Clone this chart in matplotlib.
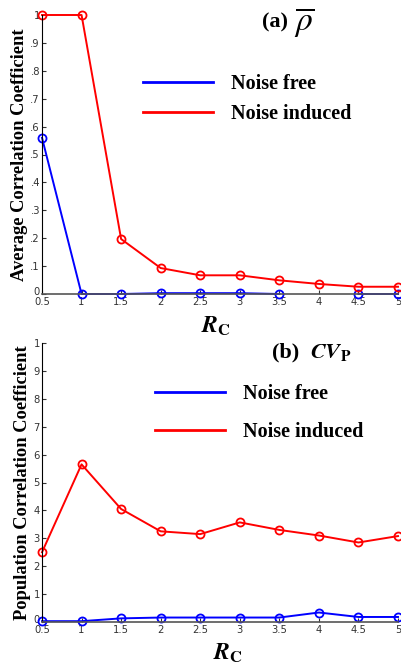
import numpy as np
import matplotlib
matplotlib.use("Agg")
import matplotlib.pyplot as plt
import matplotlib.transforms as mtransforms
from matplotlib.lines import Line2D

plt.rcParams['mathtext.fontset'] = 'stix'

rc = [0.5, 1, 1.5, 2, 2.5, 3, 3.5, 4, 4.5, 5]
xtick_labels = ['0.5', '1', '1.5', '2', '2.5', '3', '3.5', '4', '4.5', '5']

# (a) average correlation coefficient
rho_free = [0.56, 0.0, 0.0, 0.003, 0.003, 0.003, 0.0, np.nan, 0.0, 0.0]
rho_noise = [1.0, 1.0, 0.197, 0.093, 0.067, 0.067, 0.049, 0.036, 0.026, 0.026]

# (b) population correlation coefficient
cv_free = [0.003, 0.003, 0.013, 0.016, 0.016, 0.016, 0.016, 0.034, 0.018, 0.018]
cv_noise = [0.25, 0.565, 0.405, 0.325, 0.315, 0.357, 0.33, 0.31, 0.285, 0.308]

yticks = [0, 0.1, 0.2, 0.3, 0.4, 0.5, 0.6, 0.7, 0.8, 0.9, 1.0]
ylab_a = ['0', '.1', '.2', '.3', '.4', '.5', '.6', '.7', '.8', '.9', '1']
ylab_b = ['0', '1', '2', '3', '4', '5', '6', '7', '8', '9', '1']

W, H = 401, 668
fig = plt.figure(figsize=(W/100, H/100), dpi=100)

def make_ax(top_px, bot_px):
    left = 42/W
    right = 398/W
    return fig.add_axes([left, 1 - bot_px/H, right-left, (bot_px-top_px)/H])

serif = 'Liberation Serif'

def style(ax, ylabels, ylabel, ysize):
    ax.set_xlim(0.5, 5)
    ax.set_ylim(0, 1)
    ax.set_xticks(rc)
    ax.set_xticklabels(xtick_labels)
    ax.set_yticks(yticks)
    ax.set_yticklabels(ylabels)
    for s in ['top', 'right']:
        ax.spines[s].set_visible(False)
    ax.spines['left'].set_color('black')
    ax.spines['bottom'].set_color('#555555')
    ax.spines['bottom'].set_linewidth(1.2)
    ax.tick_params(direction='in', length=3, width=0.8, labelsize=7.2,
                   colors='#333333')
    ax.tick_params(axis='x', pad=2.5)
    ax.tick_params(axis='y', pad=1.5)
    # lift the "0" label a little so it does not collide with "0.5"
    lab0 = ax.get_yticklabels()[0]
    lab0.set_transform(lab0.get_transform() +
                       mtransforms.ScaledTranslation(0, 2.5/72, fig.dpi_scale_trans))
    ax.set_ylabel(ylabel, fontfamily=serif, fontweight='bold', fontsize=ysize, labelpad=2)

mk = dict(marker='o', markersize=5.8, markerfacecolor='none', markeredgewidth=1.3, linewidth=1.4)

ax1 = make_ax(15, 294)
ax1.plot(rc, rho_free, color='#0000ff', clip_on=False, **mk)
ax1.plot(rc, rho_noise, color='#ff0000', clip_on=False, **mk)
style(ax1, ylab_a, 'Average Correlation Coefficient', 13.3)
fig.text(262/W, 1 - 22/H, '(a)', fontfamily=serif, fontweight='bold', fontsize=16, va='center')
fig.text(294/W, 1 - 22/H, r'$\overline{\rho}$', fontsize=24, va='center')
fig.text(216/W, 1 - 326/H, r'$\mathbfit{R}_{\mathbf{C}}$', fontsize=17, ha='center', va='center')

ax2 = make_ax(343, 622)
ax2.plot(rc, cv_free, color='#0000ff', clip_on=False, **mk)
ax2.plot(rc, cv_noise, color='#ff0000', clip_on=False, **mk)
style(ax2, ylab_b, 'Population Correlation Coefficient', 13.3)
fig.text(272/W, 1 - 352/H, '(b)', fontfamily=serif, fontweight='bold', fontsize=16, va='center')
fig.text(310/W, 1 - 352/H, r'$\mathbfit{CV}_{\mathbf{P}}$', fontsize=16, va='center')
fig.text(228/W, 1 - 653/H, r'$\mathbfit{R}_{\mathbf{C}}$', fontsize=17, ha='center', va='center')

handles = [Line2D([], [], color='#0000ff', linewidth=2), Line2D([], [], color='#ff0000', linewidth=2)]
labels = ['Noise free', 'Noise induced']
leg_font = dict(family=serif, weight='bold', size=14.5)
ax1.legend(handles, labels, loc='upper left', bbox_to_anchor=(143/W, 1 - 74/H),
           bbox_transform=fig.transFigure, frameon=False, prop=leg_font,
           handlelength=3.5, handletextpad=0.85, labelspacing=0.5, borderpad=0, borderaxespad=0)
ax2.legend(handles, labels, loc='upper left', bbox_to_anchor=(155/W, 1 - 384/H),
           bbox_transform=fig.transFigure, frameon=False, prop=leg_font,
           handlelength=3.5, handletextpad=0.85, labelspacing=0.9, borderpad=0, borderaxespad=0)

fig.savefig('out.png', dpi=100)
